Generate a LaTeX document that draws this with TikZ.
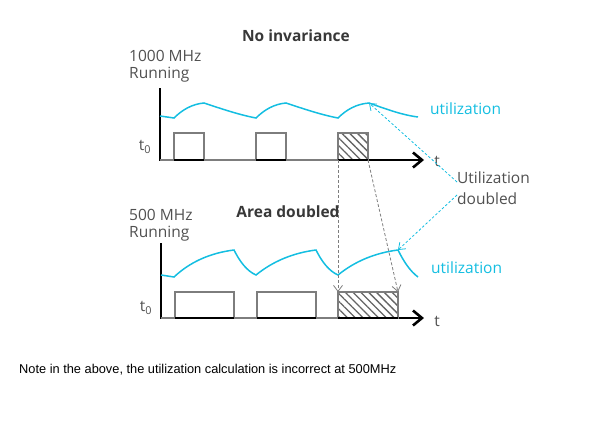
\documentclass[tikz,border=0pt]{standalone}
\usepackage{fontspec}
\setmainfont{Open Sans}
\newfontfamily\notefont{Liberation Sans}
\usetikzlibrary{arrows.meta,patterns.meta,positioning}

\definecolor{utilcyan}{RGB}{20,190,225}
\definecolor{labelgray}{RGB}{80,80,80}
\definecolor{pulsegray}{RGB}{125,125,125}

\begin{document}
\begin{tikzpicture}
[x=1pt,y=-1pt,
 axis/.style={draw=black,line width=1.4pt},
 yaxis/.style={draw=black,line width=2.6pt},
 timearrow/.style={-{Straight Barb[length=9pt,width=15pt,line width=2.6pt]}},
 pulse/.style={draw=pulsegray,line width=1.4pt},
 busy/.style={draw=black,line width=2.6pt},
 hatched/.style={pulse,pattern={Lines[angle=-45,distance=5.5pt,line width=1.3pt]},pattern color=pulsegray!80!black},
 util/.style={draw=utilcyan,line width=1.5pt},
 hint/.style={draw=utilcyan,line width=0.8pt,dash pattern=on 2.5pt off 2pt,-{Straight Barb[length=6pt,width=9pt]}},
 move/.style={draw=pulsegray,line width=0.8pt,dash pattern=on 3pt off 2pt,-{Straight Barb[length=6pt,width=9pt]}},
 lbl/.style={text=labelgray,font=\fontsize{15.5}{17}\selectfont,inner sep=0pt,align=left},
 head/.style={text=labelgray!70!black,font=\fontsize{15.5}{17}\selectfont\bfseries,inner sep=0pt}]

\useasboundingbox (0,0) rectangle (599,437);

% the corners of the hatched pulses
\coordinate (hatchA-sw) at (338,160);
\coordinate (hatchA-se) at (368,160);
\coordinate (hatchB-nw) at (338,292);
\coordinate (hatchB-ne) at (398,292);

% the peaks of the utilization
\coordinate (peakA) at (369,103);
\coordinate (peakB) at (398,250);

% the titles
\node[head] (title) at (296,36) {No invariance};
\node[head] (area) at (288,212) {Area doubled};
\node[lbl,anchor=west] (fhi) at (129,66) {1000 MHz\\Running};
\node[lbl,anchor=west] (flo) at (129,225) {500 MHz\\Running};

% the top panel, 1000 MHz
\draw[yaxis] (160,88) -- (160,161);
\draw[axis,timearrow] (160,160) -- (424,160);
\draw[pulse] (160,160) -- (174,160) -- (174,133) -- (204,133) -- (204,160) -- (256,160)
  -- (256,133) -- (286,133) -- (286,160) -- (338,160);
\draw[hatched] (338,133) rectangle (hatchA-se);
\draw[busy] (174,160) -- (204,160);
\draw[busy] (256,160) -- (286,160);
\draw[busy] (hatchA-sw) -- (hatchA-se);
\draw[util] (160,116) -- (174,118)
  .. controls (182,110) and (192,104) .. (204,103)
  .. controls (222,109) and (240,115) .. (256,118)
  .. controls (264,110) and (274,104) .. (286,103)
  .. controls (304,109) and (322,115) .. (338,118)
  .. controls (346,110) and (356,104) .. (peakA)
  .. controls (386,109) and (402,115) .. (418,117);

% the bottom panel, 500 MHz
\draw[yaxis] (161,243) -- (161,319);
\draw[axis,timearrow] (161,318) -- (424,318);
\draw[pulse] (161,318) -- (175,318) -- (175,292) -- (234,292) -- (234,318) -- (257,318)
  -- (257,292) -- (316,292) -- (316,318) -- (338,318);
\draw[hatched] (hatchB-nw) rectangle (398,318);
\draw[busy] (175,318) -- (234,318);
\draw[busy] (257,318) -- (316,318);
\draw[busy] (338,318) -- (398,318);
\draw[util] (161,275) -- (174,277)
  .. controls (190,262) and (210,253) .. (234,250)
  .. controls (240,262) and (247,271) .. (256,275)
  .. controls (272,262) and (292,253) .. (316,250)
  .. controls (322,262) and (329,271) .. (338,275)
  .. controls (354,262) and (374,253) .. (peakB)
  .. controls (404,262) and (410,271) .. (418,277);

% labelling the axes
\node[lbl] (tA) at (437,161) {t};
\node[lbl] (tB) at (437,321) {t};
\node[lbl] (tzA) at (145,147) {t\textsubscript{0}};
\node[lbl] (tzB) at (146,308) {t\textsubscript{0}};

% labelling the utilization
\node[lbl,text=utilcyan,anchor=west] (utilA) at (430,109) {utilization};
\node[lbl,text=utilcyan,anchor=west] (utilB) at (431,268) {utilization};
\node[lbl,anchor=west,font=\fontsize{15.5}{21}\selectfont] (udbl) at (457,188) {Utilization\\doubled};

% the arrows
\draw[hint] ([yshift=6pt]udbl.west) -- (peakA);
\draw[hint] ([yshift=-7pt]udbl.west) -- (peakB);
\draw[move] (hatchA-sw) -- (hatchB-nw);
\draw[move] (hatchA-se) -- (hatchB-ne);

% the note
\node[anchor=west,inner sep=0pt,font=\notefont\fontsize{12.8}{14}\selectfont] (note) at (19,370)
  {Note in the above, the utilization calculation is incorrect at 500MHz};

\end{tikzpicture}
\end{document}
